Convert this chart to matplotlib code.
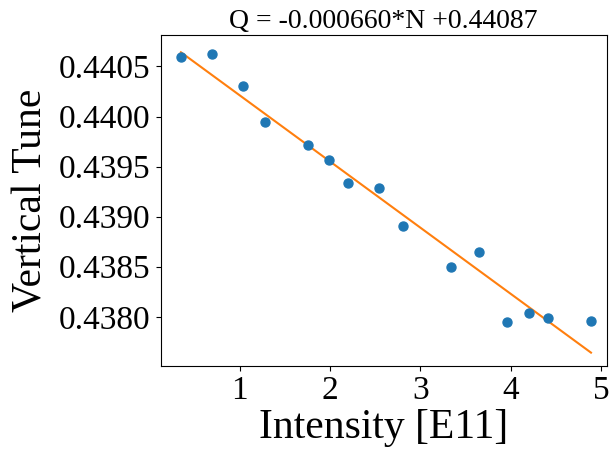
import matplotlib
matplotlib.use("Agg")
import matplotlib.pyplot as plt
import numpy as np

plt.rcParams["font.family"] = ["Liberation Serif", "DejaVu Serif"]

# measured tune vs. intensity
intensity = [0.346, 0.686, 1.033, 1.277, 1.757, 1.990, 2.194, 2.544,
             2.807, 3.339, 3.650, 3.963, 4.204, 4.415, 4.891]
tune = [0.44059, 0.44062, 0.44030, 0.43995, 0.43972, 0.43957, 0.43934, 0.43929,
        0.43891, 0.43850, 0.43865, 0.43795, 0.43804, 0.43799, 0.43796]

# linear fit quoted in the title
slope = -0.000660
intercept = 0.44087

fig, ax = plt.subplots(figsize=(6.15, 4.5), dpi=100)
fig.subplots_adjust(left=0.261, right=0.9865, top=0.922, bottom=0.187)

ax.scatter(intensity, tune, s=42, color="C0", zorder=3)
xfit = np.array([min(intensity), max(intensity)])
ax.plot(xfit, slope * xfit + intercept, color="C1", linewidth=1.5)

ax.set_xlim(0.12, 5.065)
ax.set_ylim(0.43751, 0.440813)
ax.set_xticks([1, 2, 3, 4, 5])
ax.set_yticks([0.4380, 0.4385, 0.4390, 0.4395, 0.4400, 0.4405])
ax.yaxis.set_major_formatter(matplotlib.ticker.FormatStrFormatter("%.4f"))
ax.tick_params(labelsize=24)

ax.set_xlabel("Intensity [E11]", fontsize=30, labelpad=2)
ax.set_ylabel("Vertical Tune", fontsize=30, labelpad=6)
ax.set_title(f"Q = {slope:.6f}*N +{intercept:.5f}", fontsize=20, pad=5)

fig.savefig("out.png", dpi=100, facecolor="white")
